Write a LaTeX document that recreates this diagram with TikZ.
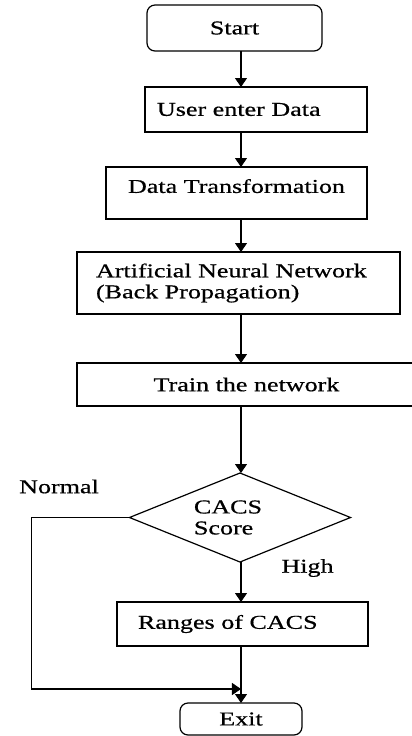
\documentclass[tikz,border=0pt]{standalone}
\usepackage{fontspec}
\setmainfont{Liberation Serif}[FakeStretch=1.33,FakeBold=0.6]
\usetikzlibrary{arrows.meta,positioning,shapes.geometric}

\begin{document}
\begin{tikzpicture}[every node/.style={font=\fontsize{9.8}{10.5}\selectfont},
 box/.style={draw,line width=0.6pt,outer sep=0pt,minimum height=22pt,align=center},
 term/.style={box,rounded corners=4pt},
 test/.style={draw,line width=0.6pt,outer sep=0pt,diamond,inner sep=0pt,minimum width=110.5pt,minimum height=44.5pt},
 lbl/.style={inner sep=1pt},
 arr/.style={-{Triangle[length=4.5pt,width=6pt]},line width=0.6pt}]
\path[use as bounding box,fill=white](0,0) rectangle (206pt,-368pt);
\node[term,minimum width=87.5pt,minimum height=23pt](start) at (117.25pt,-14pt){Start};
\node[box,below=18pt of start,xshift=10.75pt,minimum height=22.5pt,align=left,inner xsep=6pt,text width=99pt](user){User enter Data};
\node[box,below=17.5pt of user,xshift=-9.75pt,minimum width=130.5pt,minimum height=26pt,text depth=7pt](data){Data Transformation};
\node[box,below=16.5pt of data,xshift=1pt,minimum height=31pt,align=left,inner xsep=9.5pt,text width=142.5pt](ann){Artificial Neural Network\\(Back Propagation)};
\node[box,below=24.5pt of ann,xshift=4pt,minimum width=169.5pt,minimum height=21.5pt](train){Train the network};
\node[test,below=33.5pt of train,xshift=-3.25pt,label={[align=left,xshift=-6pt]center:CACS\\Score}](score){};
\node[box,below=20pt of score,xshift=1.25pt,align=left,inner xsep=10.5pt,text width=104.5pt](ranges){Ranges of CACS};
\node[term,below=28.5pt of ranges,xshift=-0.75pt,minimum width=61pt,minimum height=16pt](exit){Exit};
\node[lbl](normal) at ([xshift=-35.25pt,yshift=15.5pt]score.west){Normal};
\node[lbl](high) at ([xshift=33.75pt,yshift=-3pt]score.south){High};
% normal branch runs round the left side
\coordinate (join) at ([yshift=7pt]exit.north);
\coordinate (bend) at ([xshift=-49pt]join -| score.west);
\draw[arr](start.south -| exit)--(user.north -| exit);
\draw[arr](user.south -| exit)--(data.north -| exit);
\draw[arr](data.south -| exit)--(ann.north -| exit);
\draw[arr](ann.south -| exit)--(train.north -| exit);
\draw[arr](train.south -| exit)--(score.north -| exit);
\draw[arr](score.south -| exit)--(ranges.north -| exit);
\draw[arr](ranges.south -| exit)--(exit.north);
\draw[arr](score.west)-|(bend)--(join);
\end{tikzpicture}
\end{document}
